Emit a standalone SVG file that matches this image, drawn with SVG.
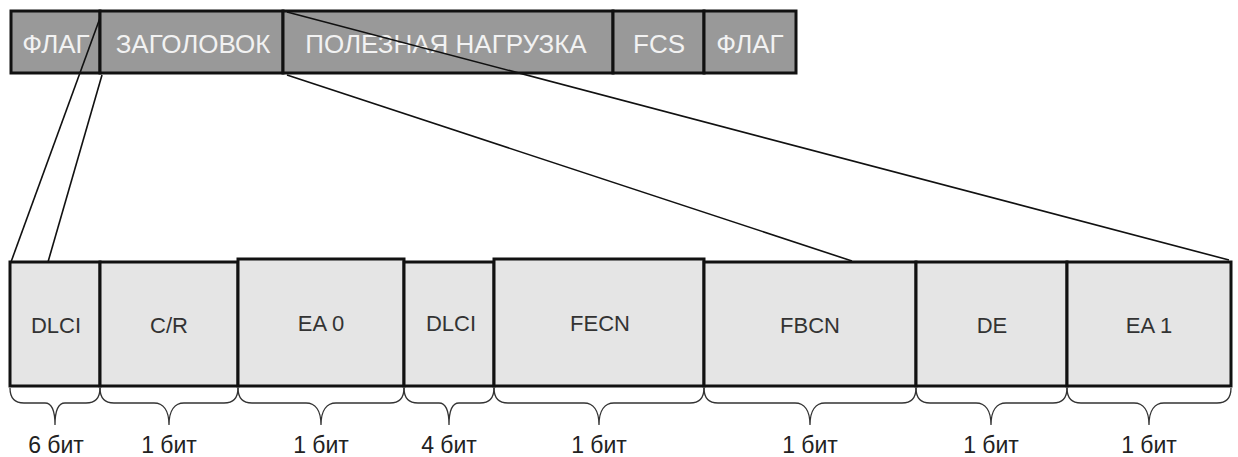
<svg xmlns="http://www.w3.org/2000/svg" width="1238" height="457" viewBox="0 0 1238 457">
<style>
.top{fill:#999999;stroke:#111;stroke-width:3}
.tt{font-family:"Liberation Sans",Arial,sans-serif;font-size:26px;fill:#f2f2f2;text-anchor:middle}
.cell{fill:#e5e5e5;stroke:#111;stroke-width:3}
.ct{font-family:"Liberation Sans",Arial,sans-serif;font-size:22px;fill:#333;text-anchor:middle}
.bt{font-family:"Liberation Sans",Arial,sans-serif;font-size:23px;fill:#222;text-anchor:middle}
.br{fill:none;stroke:#333;stroke-width:1.3}
.ln{fill:none;stroke:#111;stroke-width:1.6}
</style>
<rect width="1238" height="457" fill="#fff"/>
<g id="frame">
<g id="f-flag1"><rect class="top" x="11" y="11" width="89" height="62"/><text class="tt" x="56" y="53">ФЛАГ</text></g>
<g id="f-header"><rect class="top" x="100" y="11" width="183" height="62"/><text class="tt" x="193" y="53">ЗАГОЛОВОК</text></g>
<g id="f-payload"><rect class="top" x="283" y="11" width="330" height="62"/><text class="tt" x="446" y="53">ПОЛЕЗНАЯ НАГРУЗКА</text></g>
<g id="f-fcs"><rect class="top" x="613" y="11" width="91" height="62"/><text class="tt" x="659" y="53">FCS</text></g>
<g id="f-flag2"><rect class="top" x="704" y="11" width="92" height="62"/><text class="tt" x="750" y="53">ФЛАГ</text></g>
</g>
<g id="connectors">
<line class="ln" x1="100" y1="18" x2="11" y2="262"/>
<line class="ln" x1="102" y1="75" x2="48" y2="262"/>
<line class="ln" x1="287" y1="12" x2="1229" y2="260"/>
<line class="ln" x1="287" y1="75" x2="852" y2="261"/>
</g>
<g id="cells">
<g id="c-dlci6"><rect class="cell" x="10" y="262" width="90" height="124"/><text class="ct" x="56" y="333">DLCI</text></g>
<g id="c-cr"><rect class="cell" x="100" y="262" width="138" height="124"/><text class="ct" x="169" y="333">C/R</text></g>
<g id="c-ea0"><rect class="cell" x="238" y="259" width="166" height="127"/><text class="ct" x="321" y="331">EA 0</text></g>
<g id="c-dlci4"><rect class="cell" x="404" y="262" width="90" height="124"/><text class="ct" x="451" y="331">DLCI</text></g>
<g id="c-fecn"><rect class="cell" x="494" y="259" width="210" height="127"/><text class="ct" x="600" y="331">FECN</text></g>
<g id="c-fbcn"><rect class="cell" x="704" y="262" width="212" height="124"/><text class="ct" x="810" y="333">FBCN</text></g>
<g id="c-de"><rect class="cell" x="916" y="262" width="151" height="124"/><text class="ct" x="992" y="333">DE</text></g>
<g id="c-ea1"><rect class="cell" x="1067" y="262" width="164" height="124"/><text class="ct" x="1149" y="333">EA 1</text></g>
</g>
<g id="braces">
<path class="br" d="M10,388 C10,398 14,403 24,403 L45,403 C52,403 55,410 55,425 C55,410 58,403 65,403 L86,403 C96,403 100,398 100,388"/>
<path class="br" d="M100,388 C100,398 104,403 114,403 L154,403 C163,403 169,410 169,425 C169,410 175,403 184,403 L224,403 C234,403 238,398 238,388"/>
<path class="br" d="M238,388 C238,398 242,403 252,403 L306,403 C315,403 321,410 321,425 C321,410 327,403 336,403 L390,403 C400,403 404,398 404,388"/>
<path class="br" d="M404,388 C404,398 408,403 418,403 L439,403 C446,403 449,410 449,425 C449,410 452,403 459,403 L480,403 C490,403 494,398 494,388"/>
<path class="br" d="M494,388 C494,398 498,403 508,403 L584,403 C593,403 599,410 599,425 C599,410 605,403 614,403 L690,403 C700,403 704,398 704,388"/>
<path class="br" d="M704,388 C704,398 708,403 718,403 L795,403 C804,403 810,410 810,425 C810,410 816,403 825,403 L902,403 C912,403 916,398 916,388"/>
<path class="br" d="M916,388 C916,398 920,403 930,403 L976,403 C985,403 991,410 991,425 C991,410 997,403 1006,403 L1053,403 C1063,403 1067,398 1067,388"/>
<path class="br" d="M1067,388 C1067,398 1071,403 1081,403 L1134,403 C1143,403 1149,410 1149,425 C1149,410 1155,403 1164,403 L1217,403 C1227,403 1231,398 1231,388"/>
</g>
<g id="labels">
<text class="bt" x="56" y="453">6 бит</text>
<text class="bt" x="169" y="453">1 бит</text>
<text class="bt" x="321" y="453">1 бит</text>
<text class="bt" x="449" y="453">4 бит</text>
<text class="bt" x="599" y="453">1 бит</text>
<text class="bt" x="810" y="453">1 бит</text>
<text class="bt" x="991" y="453">1 бит</text>
<text class="bt" x="1149" y="453">1 бит</text>
</g>
</svg>
